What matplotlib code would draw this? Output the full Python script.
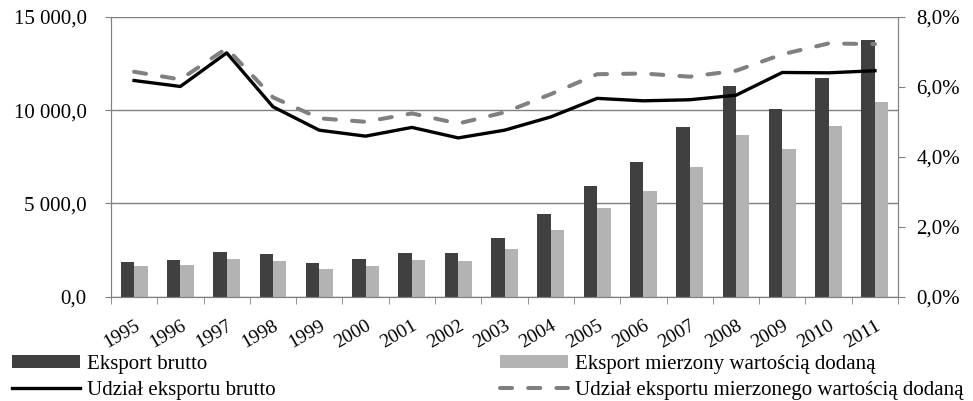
import numpy as np
import matplotlib
matplotlib.use("Agg")
import matplotlib.pyplot as plt
from matplotlib.ticker import FuncFormatter

plt.rcParams["font.family"] = ["Liberation Serif", "DejaVu Serif"]
plt.rcParams["font.size"] = 15

years = [str(y) for y in range(1995, 2012)]
eksport_brutto = [1880, 1960, 2390, 2270, 1800, 2000, 2320, 2360, 3140,
                  4430, 5910, 7210, 9070, 11290, 10040, 11730, 13750]
eksport_wd = [1650, 1680, 2020, 1890, 1500, 1640, 1950, 1930, 2550,
              3570, 4770, 5680, 6960, 8680, 7930, 9140, 10410]
udzial_brutto = [6.18, 6.01, 6.97, 5.43, 4.76, 4.59, 4.84, 4.54, 4.76,
                 5.14, 5.67, 5.60, 5.63, 5.76, 6.41, 6.40, 6.46]
udzial_wd = [6.43, 6.21, 7.10, 5.70, 5.10, 5.00, 5.24, 4.95, 5.27,
             5.79, 6.36, 6.38, 6.29, 6.46, 6.93, 7.24, 7.22]

gray = "#808080"
x = np.arange(len(years))
w = 0.29

fig = plt.figure(figsize=(9.73, 4.01), dpi=100)
ax = fig.add_axes([0.114, 0.26, 0.809, 0.698])
ax2 = ax.twinx()

b1 = ax.bar(x - w / 2, eksport_brutto, w, color="#404040", zorder=2)
b2 = ax.bar(x + w / 2, eksport_wd, w, color="#b3b3b3", zorder=2)
ax.set_ylim(0, 15000)
ax.set_yticks([0, 5000, 10000, 15000])
ax.yaxis.set_major_formatter(FuncFormatter(lambda v, p: f"{v:,.1f}".replace(",", " ").replace(".", ",")))
ax.grid(axis="y", color=gray, lw=1, zorder=0)
ax.set_axisbelow(True)
ax.set_xlim(-0.5, len(years) - 0.5)

l1, = ax2.plot(x, udzial_brutto, color="black", lw=2.4, zorder=3)
l2, = ax2.plot(x, udzial_wd, color=gray, lw=2.9, dashes=(3, 4),
               dash_capstyle="round", solid_capstyle="round", zorder=3)
ax2.set_ylim(0, 8)
ax2.set_yticks([0, 2, 4, 6, 8])
ax2.yaxis.set_major_formatter(FuncFormatter(lambda v, p: f"{v:.1f}%".replace(".", ",")))

for a in (ax, ax2):
    for s in a.spines.values():
        s.set_color(gray)
    a.spines["top"].set_visible(False)
ax.tick_params(axis="y", length=4.5, color=gray, pad=13)
ax2.tick_params(axis="y", length=5, color=gray, pad=8)

ax.set_xticks(x)
ax.set_xticklabels(years, rotation=30, ha="right", va="top",
                   rotation_mode="anchor", fontsize=14)
ax.tick_params(axis="x", which="major", length=0, pad=15)
ax.set_xticks(np.arange(-0.5, len(years)), minor=True)
ax.tick_params(axis="x", which="minor", length=5, color=gray)

leg_kw = dict(frameon=False, handlelength=3.27, handleheight=0.6,
              handletextpad=0.34, labelspacing=0.35, borderaxespad=0,
              borderpad=0, fontsize=15)
fig.legend([b1, l1], ["Eksport brutto", "Udział eksportu brutto"],
           loc="upper left", bbox_to_anchor=(12 / 973, 1 - 355 / 401), **leg_kw)
fig.legend([b2, l2], ["Eksport mierzony wartością dodaną",
                      "Udział eksportu mierzonego wartością dodaną"],
           loc="upper left", bbox_to_anchor=(500 / 973, 1 - 355 / 401), **leg_kw)

fig.savefig("out.png", dpi=100)
